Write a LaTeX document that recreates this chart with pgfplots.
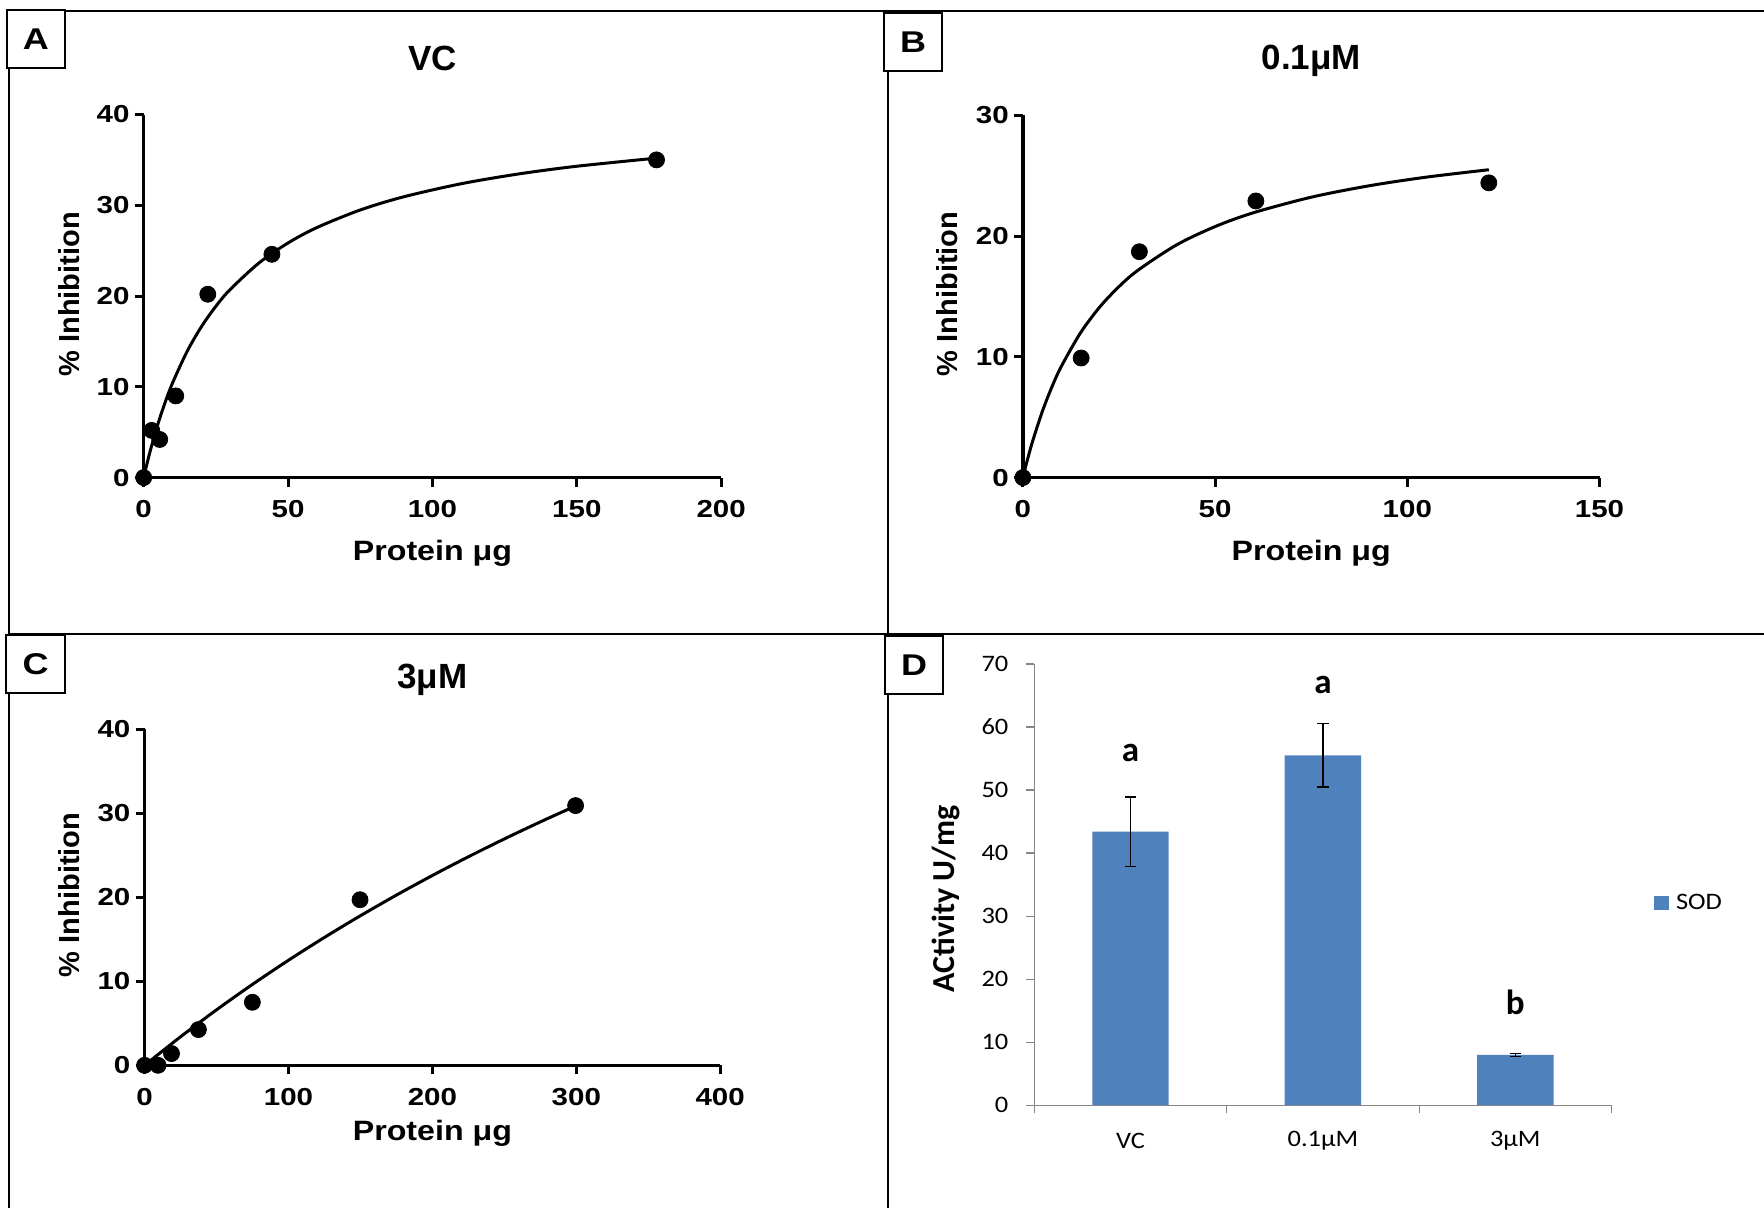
\documentclass[border=0pt]{standalone}
\usepackage{pgfplots}
\pgfplotsset{compat=1.18}
\usepackage{fontspec}
\setmainfont{Liberation Sans}
\newfontfamily\arialw[FakeStretch=1.2]{Liberation Sans}
\newfontfamily\arials[FakeStretch=1.15]{Liberation Sans}
\newfontfamily\calibriw[FakeStretch=1.12]{Carlito}
\newfontfamily\calibri{Carlito}
\definecolor{barblue}{HTML}{4F81BD}
\definecolor{axisgray}{HTML}{868686}

% GraphPad-like look for panels A-C
\pgfplotsset{
  gpad/.style={
    scale only axis, clip=false, anchor=south west,
    axis lines=left, axis line style={-, line width=1.65pt},
    tick align=outside, major tick length=4.5pt,
    tick style={line width=1.5pt, black},
    xmin=0, ymin=0,
    ticklabel style={font=\arialw\bfseries\fontsize{12.3}{12.3}\selectfont},
    yticklabel style={anchor=east, inner sep=0pt, xshift=-2.4pt},
    xticklabel style={anchor=north, inner sep=0pt, yshift=-6.6pt},
    /pgf/number format/assume math mode=true,
    xlabel={Protein μg}, ylabel={\% Inhibition},
    xlabel style={font=\arials\bfseries\fontsize{14}{14}\selectfont, anchor=center},
    ylabel style={font=\bfseries\fontsize{14.5}{14.5}\selectfont, anchor=center},
    every axis title shift=0pt,
    title style={font=\bfseries\fontsize{17.5}{17.5}\selectfont, anchor=center},
  },
  fitline/.style={black, line width=1.5pt, smooth, no markers},
  pts/.style={only marks, mark=*, mark size=4pt, black},
}

\begin{document}
\begin{tikzpicture}
\useasboundingbox (0,0) rectangle (882pt,-604pt);

% panel frames
\draw[line width=1pt] (4.5pt,-5.7pt) -- (882pt,-5.7pt);
\draw[line width=1pt] (4.5pt,-317pt) -- (882pt,-317pt);
\draw[line width=1pt] (4.5pt,-5.7pt) -- (4.5pt,-604pt);
\draw[line width=1pt] (444pt,-5.7pt) -- (444pt,-604pt);

% ---- A ----
\begin{axis}[gpad, at={(71.85pt,-238.8pt)}, width=288.75pt, height=181.55pt,
  xmax=200, ymax=40, xtick={0,50,...,200}, ytick={0,10,...,40},
  title={VC}, title style={at={(axis description cs:0.5,1.1556)}},
  xlabel style={at={(axis description cs:0.5,-0.2077)}},
  ylabel style={at={(axis description cs:-0.1287,0.505)}}]
  \addplot[fitline] coordinates {(0,0) (1,1.353) (2.5,3.223) (5,5.977) (7.5,8.356)
    (10,10.433) (15,13.883) (20,16.633) (25,18.877) (30,20.742) (40,23.665)
    (50,25.851) (60,27.548) (75,29.482) (90,30.930) (110,32.376) (130,33.459)
    (150,34.300) (177.6,35.194)};
  \addplot[pts] coordinates {(0,0) (2.78,5.2) (5.55,4.2) (11.1,9.0) (22.2,20.2)
    (44.4,24.6) (177.6,35.0)};
\end{axis}

% ---- B ----
\begin{axis}[gpad, at={(511.45pt,-238.8pt)}, width=288.3pt, height=181.2pt,
  xmax=150, ymax=30, xtick={0,50,...,150}, ytick={0,10,...,30},
  title={0.1μM}, title style={at={(axis description cs:0.5,1.1496)}},
  xlabel style={at={(axis description cs:0.5,-0.208)}},
  ylabel style={at={(axis description cs:-0.1311,0.507)}}]
  \addplot[fitline] coordinates {(0,0) (1,1.268) (2.5,2.982) (5,5.430) (7.5,7.475)
    (10,9.210) (15,11.992) (20,14.126) (25,15.814) (30,17.183) (40,19.269)
    (50,20.782) (60,21.930) (75,23.212) (90,24.154) (105,24.875) (121.2,25.485)};
  \addplot[pts] coordinates {(0,0) (15.15,9.9) (30.3,18.7) (60.6,22.9) (121.2,24.4)};
\end{axis}

% ---- C ----
\begin{axis}[gpad, at={(72.3pt,-532.65pt)}, width=287.8pt, height=168.1pt,
  xmax=400, ymax=40, xtick={0,100,...,400}, ytick={0,10,...,40},
  title={3μM}, title style={at={(axis description cs:0.5,1.1475)}},
  xlabel style={at={(axis description cs:0.5,-0.2014)}},
  ylabel style={at={(axis description cs:-0.1313,0.507)}}]
  \addplot[fitline] coordinates {(0,0) (25,3.397) (50,6.603) (75,9.632) (100,12.500)
    (125,15.219) (150,17.799) (175,20.252) (200,22.587) (225,24.812) (250,26.934)
    (275,28.960) (299.5,30.860)};
  \addplot[pts] coordinates {(0,0) (9.36,0.0) (18.7,1.4) (37.4,4.25) (74.9,7.5)
    (149.7,19.7) (299.5,30.9)};
\end{axis}

% ---- D ----
\begin{axis}[scale only axis, clip=false, anchor=south west,
  at={(517.15pt,-552.6pt)}, width=288.6pt, height=220.6pt,
  ybar, bar width=38.2pt,
  axis lines=left, axis line style={-, axisgray, line width=0.6pt},
  tick align=outside, major tick length=4pt, tick style={axisgray, line width=0.6pt},
  xmin=-0.5, xmax=2.5, ymin=0, ymax=70, ytick={0,10,...,70},
  xtick={-0.5,0.5,1.5,2.5}, xticklabels={},
  extra x ticks={0,1,2}, extra x tick labels={VC,0.1μM,3μM},
  extra x tick style={major tick length=0pt},
  ticklabel style={font=\calibriw\fontsize{11.8}{11.8}\selectfont},
  yticklabel style={anchor=east, inner sep=0pt, xshift=-8.8pt},
  xticklabel style={anchor=center, inner sep=0pt, yshift=-18pt},
  /pgf/number format/assume math mode=true,
  ylabel={ACtivity U/mg},
  ylabel style={font=\calibri\bfseries\fontsize{16}{16}\selectfont, anchor=center,
    at={(axis description cs:-0.1532,0.468)}},
  legend style={draw=none, at={(axis description cs:1.0736,0.4583)}, anchor=west,
    font=\calibriw\fontsize{11.8}{11.8}\selectfont, inner sep=0pt,
    nodes={inner sep=0pt}, column sep=3.4pt}]
  \addplot[fill=barblue, draw=none,
    legend image code/.code={\fill[barblue] (0pt,-3.7pt) rectangle (7.4pt,3.7pt);},
    error bars/.cd, y dir=both, y explicit,
    error bar style={black, line width=0.6pt},
    error mark options={rotate=90, black, line width=0.6pt, mark size=2.9pt}]
    coordinates {(0,43.4) +- (0,5.5) (1,55.5) +- (0,5.0) (2,8.0) +- (0,0.25)};
  \addlegendentry{SOD}
  \node[font=\calibri\bfseries\fontsize{17.5}{17.5}\selectfont] at (axis cs:0,55.9) {a};
  \node[font=\calibri\bfseries\fontsize{17.5}{17.5}\selectfont] at (axis cs:1,66.7) {a};
  \node[font=\calibri\bfseries\fontsize{17.5}{17.5}\selectfont] at (axis cs:2,16.3) {b};
\end{axis}

% panel letters
\foreach \x/\y/\l in {2.85/-4.5/A, 441.5/-6/B, 2.7/-317/C, 442/-317.5/D}
  \node[draw, line width=1pt, fill=white, anchor=north west, minimum width=29.2pt,
    minimum height=29pt, inner sep=0pt,
    font=\arialw\bfseries\fontsize{15}{15}\selectfont] at (\x pt,\y pt) {\l};
\end{tikzpicture}
\end{document}
